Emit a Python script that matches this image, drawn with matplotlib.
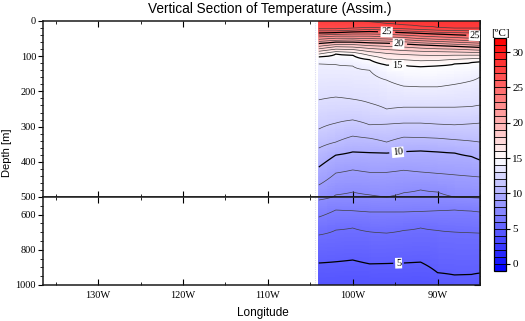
import numpy as np
import matplotlib
matplotlib.use('Agg')
import matplotlib.pyplot as plt
from matplotlib.colors import LinearSegmentedColormap, ListedColormap, Normalize, BoundaryNorm
from matplotlib.ticker import MultipleLocator, FixedLocator, FuncFormatter

# station longitudes (deg E)
lon = np.array([-104, -102, -100, -98, -96, -94, -92, -90, -88, -86, -85])

# temperature (degC) at the surface and at 1000 m
t_surf = [27.8, 27.8, 27.9, 28.05, 28.3, 28.4, 28.4, 28.4, 28.4, 28.4, 28.4]
t_bot = [4.35, 4.35, 4.3, 4.35, 4.35, 4.35, 4.3, 4.6, 4.65, 4.65, 4.6]

# depth (m) of each isotherm at the stations above
z28 = [np.nan, np.nan, np.nan, 2, 7, 11, 15, 18, 20, 20, 20]
z27 = [22, 22, 20, 18, 20, 22, 24, 26, 27, 28, 28]
z26 = [28, 28, 26, 24, 26, 28, 30, 32, 33, 34, 35]
z25 = [34, 33, 31, 30, 31, 33, 35, 37, 39, 41, 42]
z24 = [40, 38, 37, 37, 38, 40, 43, 45, 47, 49, 50]
z23 = [45, 43, 43, 43, 45, 47, 50, 52, 54, 56, 57]
z22 = [52, 49, 49, 50, 51, 53, 56, 58, 60, 62, 63]
z21 = [58, 55, 54, 56, 57, 59, 62, 64, 66, 68, 69]
z20 = [64, 60, 60, 62, 63, 65, 68, 70, 72, 74, 75]
z19 = [72, 67, 67, 70, 72, 74, 77, 79, 80, 82, 83]
z18 = [79, 73, 74, 78, 81, 84, 86, 87, 88, 89, 90]
z17 = [86, 80, 81, 87, 92, 95, 97, 98, 97, 97, 97]
z16 = [94, 87, 89, 98, 108, 110, 113, 112, 109, 107, 106]
z15 = [102, 94, 97, 110, 125, 125, 130, 127, 122, 118, 116]
z14 = [122, 124, 128, 140, 168, 185, 187, 187, 180, 170, 159]
z13 = [224, 216, 222, 233, 250, 245, 245, 245, 245, 243, 239]
z12 = [307, 290, 281, 295, 293, 290, 290, 293, 295, 292, 290]
z11 = [361, 344, 327, 333, 344, 330, 331, 333, 337, 341, 344]
z10 = [415, 381, 372, 374, 375, 371, 369, 372, 375, 385, 395]
z9 = [466, 432, 423, 430, 430, 424, 429, 433, 437, 441, 443]
z8 = [517, 494, 486, 494, 500, 488, 480, 486, 500, 504, 506]
z7 = [614, 574, 578, 585, 585, 585, 582, 578, 574, 580, 585]
z6 = [716, 688, 676, 698, 705, 690, 676, 690, 699, 703, 705]
z5 = [875, 868, 858, 880, 878, 875, 870, 930, 943, 940, 932]

iso_temp = [28, 27, 26, 25, 24, 23, 22, 21, 20, 19, 18, 17, 16, 15,
            14, 13, 12, 11, 10, 9, 8, 7, 6, 5]
iso_depth = [z28, z27, z26, z25, z24, z23, z22, z21, z20, z19, z18, z17, z16, z15,
             z14, z13, z12, z11, z10, z9, z8, z7, z6, z5]

# temperature section on a 2 m depth grid
zz = np.arange(0, 1001, 2.0)
temp = np.empty((zz.size, lon.size))
for j in range(lon.size):
    zp, tp = [0.0], [t_surf[j]]
    for t, d in zip(iso_temp, iso_depth):
        if np.isfinite(d[j]):
            zp.append(d[j])
            tp.append(t)
    zp.append(1000.0)
    tp.append(t_bot[j])
    temp[:, j] = np.interp(zz, zp, tp)

vmin, vmax = -1, 32
cmap = LinearSegmentedColormap.from_list(
    'bwr_t', [(0, (0, 0, 1)), ((15 - vmin) / (vmax - vmin), (1, 1, 1)), (1, (1, 0, 0))])
norm = Normalize(vmin, vmax)

thin_lev = [v for v in range(1, 32) if v % 5]
thick_lev = [5, 10, 15, 20, 25]

serif = 'Liberation Serif'
sans = 'Liberation Sans'
tick_fs = 7.5

fig = plt.figure(figsize=(5.25, 3.21), dpi=100)
W, H = 525.0, 321.0
ax_up = fig.add_axes([43 / W, 1 - 197 / H, 437 / W, 176 / H])
ax_lo = fig.add_axes([43 / W, 1 - 285 / H, 437 / W, 88 / H])

lon_fmt = FuncFormatter(lambda v, _: '%dW' % round(-v))

for ax, ylim in ((ax_up, (500, 0)), (ax_lo, (1000, 500))):
    ax.pcolormesh(lon, zz, temp, cmap=cmap, norm=norm, shading='gouraud')
    ax.contour(lon, zz, temp, levels=thin_lev, colors='0.25', linewidths=0.5)
    ax.axvline(-104.4, color=(0.86, 0.86, 0.95), lw=0.8, ls=(0, (1, 1)))
    ax.set_xlim(-136.5, -85)
    ax.set_ylim(*ylim)
    ax.xaxis.set_major_locator(MultipleLocator(10))
    ax.xaxis.set_minor_locator(MultipleLocator(5))
    ax.xaxis.set_major_formatter(lon_fmt)
    ax.tick_params(axis='x', which='both', direction='in', top=True, bottom=True,
                   labelsize=tick_fs, pad=4)
    ax.tick_params(axis='x', which='major', length=4.5, width=0.8)
    ax.tick_params(axis='x', which='minor', length=2.5, width=0.6)
    ax.tick_params(axis='y', which='both', direction='out', labelsize=tick_fs, pad=1.5)
    ax.tick_params(axis='y', which='major', length=3.5, width=0.8)
    ax.tick_params(axis='y', which='minor', length=2.0, width=0.6)
    for s in ax.spines.values():
        s.set_linewidth(1.1)
        s.set_color('0.1')

ax_up.tick_params(axis='x', labelbottom=False)
ax_up.yaxis.set_major_locator(MultipleLocator(100))
ax_up.yaxis.set_minor_locator(MultipleLocator(20))
ax_lo.yaxis.set_major_locator(FixedLocator([600, 800, 1000]))
ax_lo.yaxis.set_minor_locator(MultipleLocator(50))
for ax in (ax_up, ax_lo):
    for lab in ax.get_xticklabels() + ax.get_yticklabels():
        lab.set_family(serif)

# inward ticks on the right side
for ax, step in ((ax_up, 20), (ax_lo, 50)):
    sec = ax.secondary_yaxis('right')
    sec.yaxis.set_major_locator(MultipleLocator(100 if ax is ax_up else 200))
    sec.yaxis.set_minor_locator(MultipleLocator(step))
    sec.tick_params(which='both', direction='in', labelright=False)
    sec.tick_params(which='major', length=4.0, width=0.8)
    sec.tick_params(which='minor', length=2.0, width=0.6)
    sec.spines['right'].set_linewidth(1.1)

# thick labelled isotherms
cs_up = ax_up.contour(lon, zz, temp, levels=thick_lev, colors='k', linewidths=0.9)
labs = ax_up.clabel(cs_up, fmt='%d', fontsize=tick_fs, inline=True, inline_spacing=2,
                    manual=[(-96.0, 31), (-85.6, 42), (-94.6, 63), (-94.7, 119), (-94.7, 369)])
cs_lo = ax_lo.contour(lon, zz, temp, levels=thick_lev, colors='k', linewidths=0.9)
labs += ax_lo.clabel(cs_lo, fmt='%d', fontsize=tick_fs, inline=True, inline_spacing=2,
                     manual=[(-94.6, 869)])
for t in labs:
    t.set_family(serif)
    t.set_bbox(dict(fc='white', ec='none', pad=0.6))

# colour bar with one box per degree
bounds = np.arange(vmin, vmax + 1)
box_cmap = ListedColormap(cmap(norm(bounds[:-1] + 0.5)))
cax = fig.add_axes([494 / W, 1 - 271 / H, 12 / W, 233 / H])
sm = matplotlib.cm.ScalarMappable(norm=BoundaryNorm(bounds, box_cmap.N), cmap=box_cmap)
cb = fig.colorbar(sm, cax=cax, drawedges=True, ticks=range(0, 31, 5))
cb.dividers.set_linewidth(0.6)
cb.dividers.set_color('k')
cb.outline.set_linewidth(0.9)
cax.tick_params(labelsize=8, length=3, width=0.8, pad=1.5)
cax.minorticks_off()
for lab in cax.get_yticklabels():
    lab.set_family(serif)
cax.set_title('[\u00baC]', fontsize=8, family=serif, pad=1.5)

fig.text(270 / W, 1 - 9 / H, 'Vertical Section of Temperature (Assim.)',
         ha='center', va='center', fontsize=9.8, family=sans)
fig.text(7 / W, 1 - 153 / H, 'Depth [m]', rotation=90, ha='center', va='center',
         fontsize=8, family=sans)
fig.text(263 / W, 1 - 313 / H, 'Longitude', ha='center', va='center',
         fontsize=8.5, family=sans)

fig.savefig('out.png', dpi=100)
